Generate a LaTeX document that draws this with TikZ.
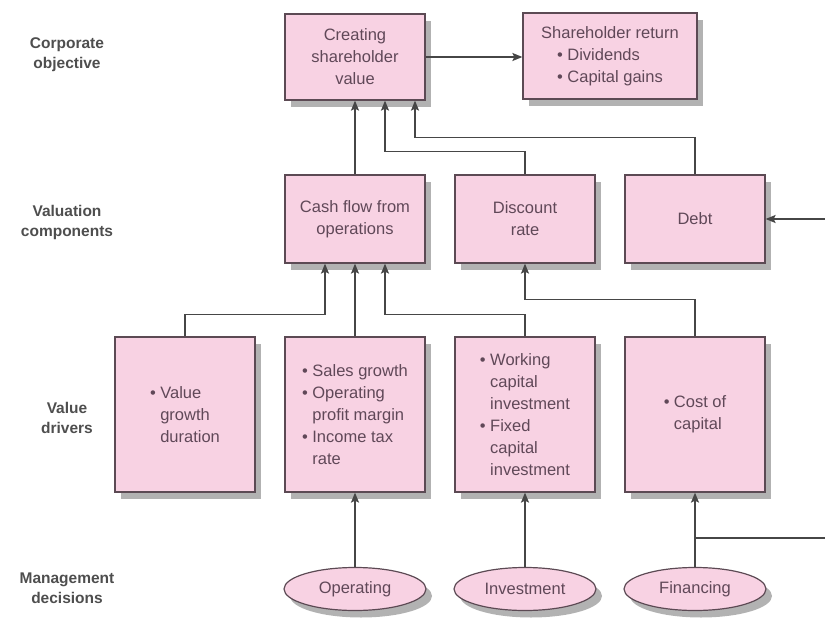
\documentclass[tikz,border=0pt]{standalone}
\usepackage{fontspec}
\setmainfont{Liberation Sans}
\usetikzlibrary{arrows.meta,positioning,calc,shapes.geometric,shadows}
\definecolor{ValPink}{RGB}{248,210,227}
\definecolor{ValBorder}{RGB}{92,74,84}
\definecolor{ValText}{RGB}{96,72,88}
\definecolor{ValArrow}{RGB}{70,70,70}
\definecolor{ValLabel}{RGB}{78,78,78}
\definecolor{ValShadow}{RGB}{165,165,165}
\newcommand{\bitem}{\makebox[0.62em][l]{\textbullet}}
\newcommand{\bcont}{\hspace*{0.62em}}
\tikzset{
  caixa/.style={draw=ValBorder, fill=ValPink, line width=1.2pt, align=center, text=ValText,
                font=\fontsize{16.5}{22}\selectfont, inner sep=2pt, minimum width=140pt, minimum height=88pt,
                drop shadow={shadow xshift=6pt, shadow yshift=-7pt, fill=ValShadow, opacity=0.85}},
  driver/.style={caixa, align=left, minimum height=155pt},
  decisao/.style={caixa, ellipse, minimum width=142pt, minimum height=43pt, inner sep=0pt},
  nivel/.style={font=\fontsize{15.5}{20}\selectfont\bfseries, text=ValLabel, align=center},
  % one arrow style for every link, one plain line for the financing bus
  seta/.style={-{Stealth[length=10pt, width=8pt, inset=2pt]}, line width=1.8pt, ValArrow},
  linha/.style={line width=1.8pt, ValArrow},
}

\begin{document}
\begin{tikzpicture}[x=1pt, y=-1pt]
  \useasboundingbox (0,0) rectangle (825,618);

  % --- Level labels -------------------------------------------------------------
  \node[nivel] (lvlobj) at (67, 55)  {Corporate\\objective};
  \node[nivel] (lvlval) at (67, 222) {Valuation\\components};
  \node[nivel] (lvldrv) at (67, 418) {Value\\drivers};
  \node[nivel] (lvldec) at (67, 588) {Management\\decisions};

  % --- Corporate objective ------------------------------------------------------
  \node[caixa, minimum height=86pt]                      (creating) at (355, 57) {Creating\\shareholder\\value};
  \node[caixa, minimum height=86pt, minimum width=174pt] (shreturn) at (610, 56)
       {Shareholder return\\\makebox[6.4em][l]{\bitem Dividends}\\\makebox[6.4em][l]{\bitem Capital gains}};
  \draw[seta] (creating.east) -- (creating.east -| shreturn.west);

  % --- Valuation components -----------------------------------------------------
  \node[caixa] (cashflow) at (355, 219) {Cash flow from\\operations};
  \node[caixa] (discount) at (525, 219) {Discount\\rate};
  \node[caixa] (debt)     at (695, 219) {Debt};

  \draw[seta] (cashflow) -- (creating);
  \draw[seta] (discount.north) -- ++(0,-23) -| ([xshift=30pt]creating.south);
  \draw[seta] (debt.north)     -- ++(0,-37) -| ([xshift=60pt]creating.south);

  % --- Value drivers ------------------------------------------------------------
  \node[driver] (vdgrowth)  at (185, 414.5) {\bitem Value\\\bcont growth\\\bcont duration};
  \node[driver] (vdsales)   at (355, 414.5) {\bitem Sales growth\\\bitem Operating\\\bcont profit margin\\\bitem Income tax\\\bcont rate};
  \node[driver] (vdcapital) at (525, 414.5) {\bitem Working\\\bcont capital\\\bcont investment\\\bitem Fixed\\\bcont capital\\\bcont investment};
  \node[driver] (vdcost)    at (695, 414.5) {\bitem Cost of\\\bcont capital};

  \draw[seta] (vdgrowth.north)  -- ++(0,-22) -| ([xshift=-30pt]cashflow.south);
  \draw[seta] (vdsales) -- (cashflow);
  \draw[seta] (vdcapital.north) -- ++(0,-22) -| ([xshift=30pt]cashflow.south);
  \draw[seta] (vdcost.north)    -- ++(0,-37) -| (discount.south);

  % --- Management decisions -----------------------------------------------------
  \node[decisao] (operating)  at (355, 589) {Operating};
  \node[decisao] (investment) at (525, 589) {Investment};
  \node[decisao] (financing)  at (695, 589) {Financing};

  \draw[seta] (operating)  -- (vdsales);
  \draw[seta] (investment) -- (vdcapital);
  \draw[seta] (financing)  -- (vdcost);

  % financing also feeds debt, running off the right edge
  \coordinate (finbranch) at (695, 538);
  \coordinate (finedge)   at (825, 538);
  \coordinate (debtedge)  at (825, 219);
  \draw[linha] (finbranch) -- (finedge);
  \draw[seta]  (debtedge) -- (debt.east);

\end{tikzpicture}
\end{document}
